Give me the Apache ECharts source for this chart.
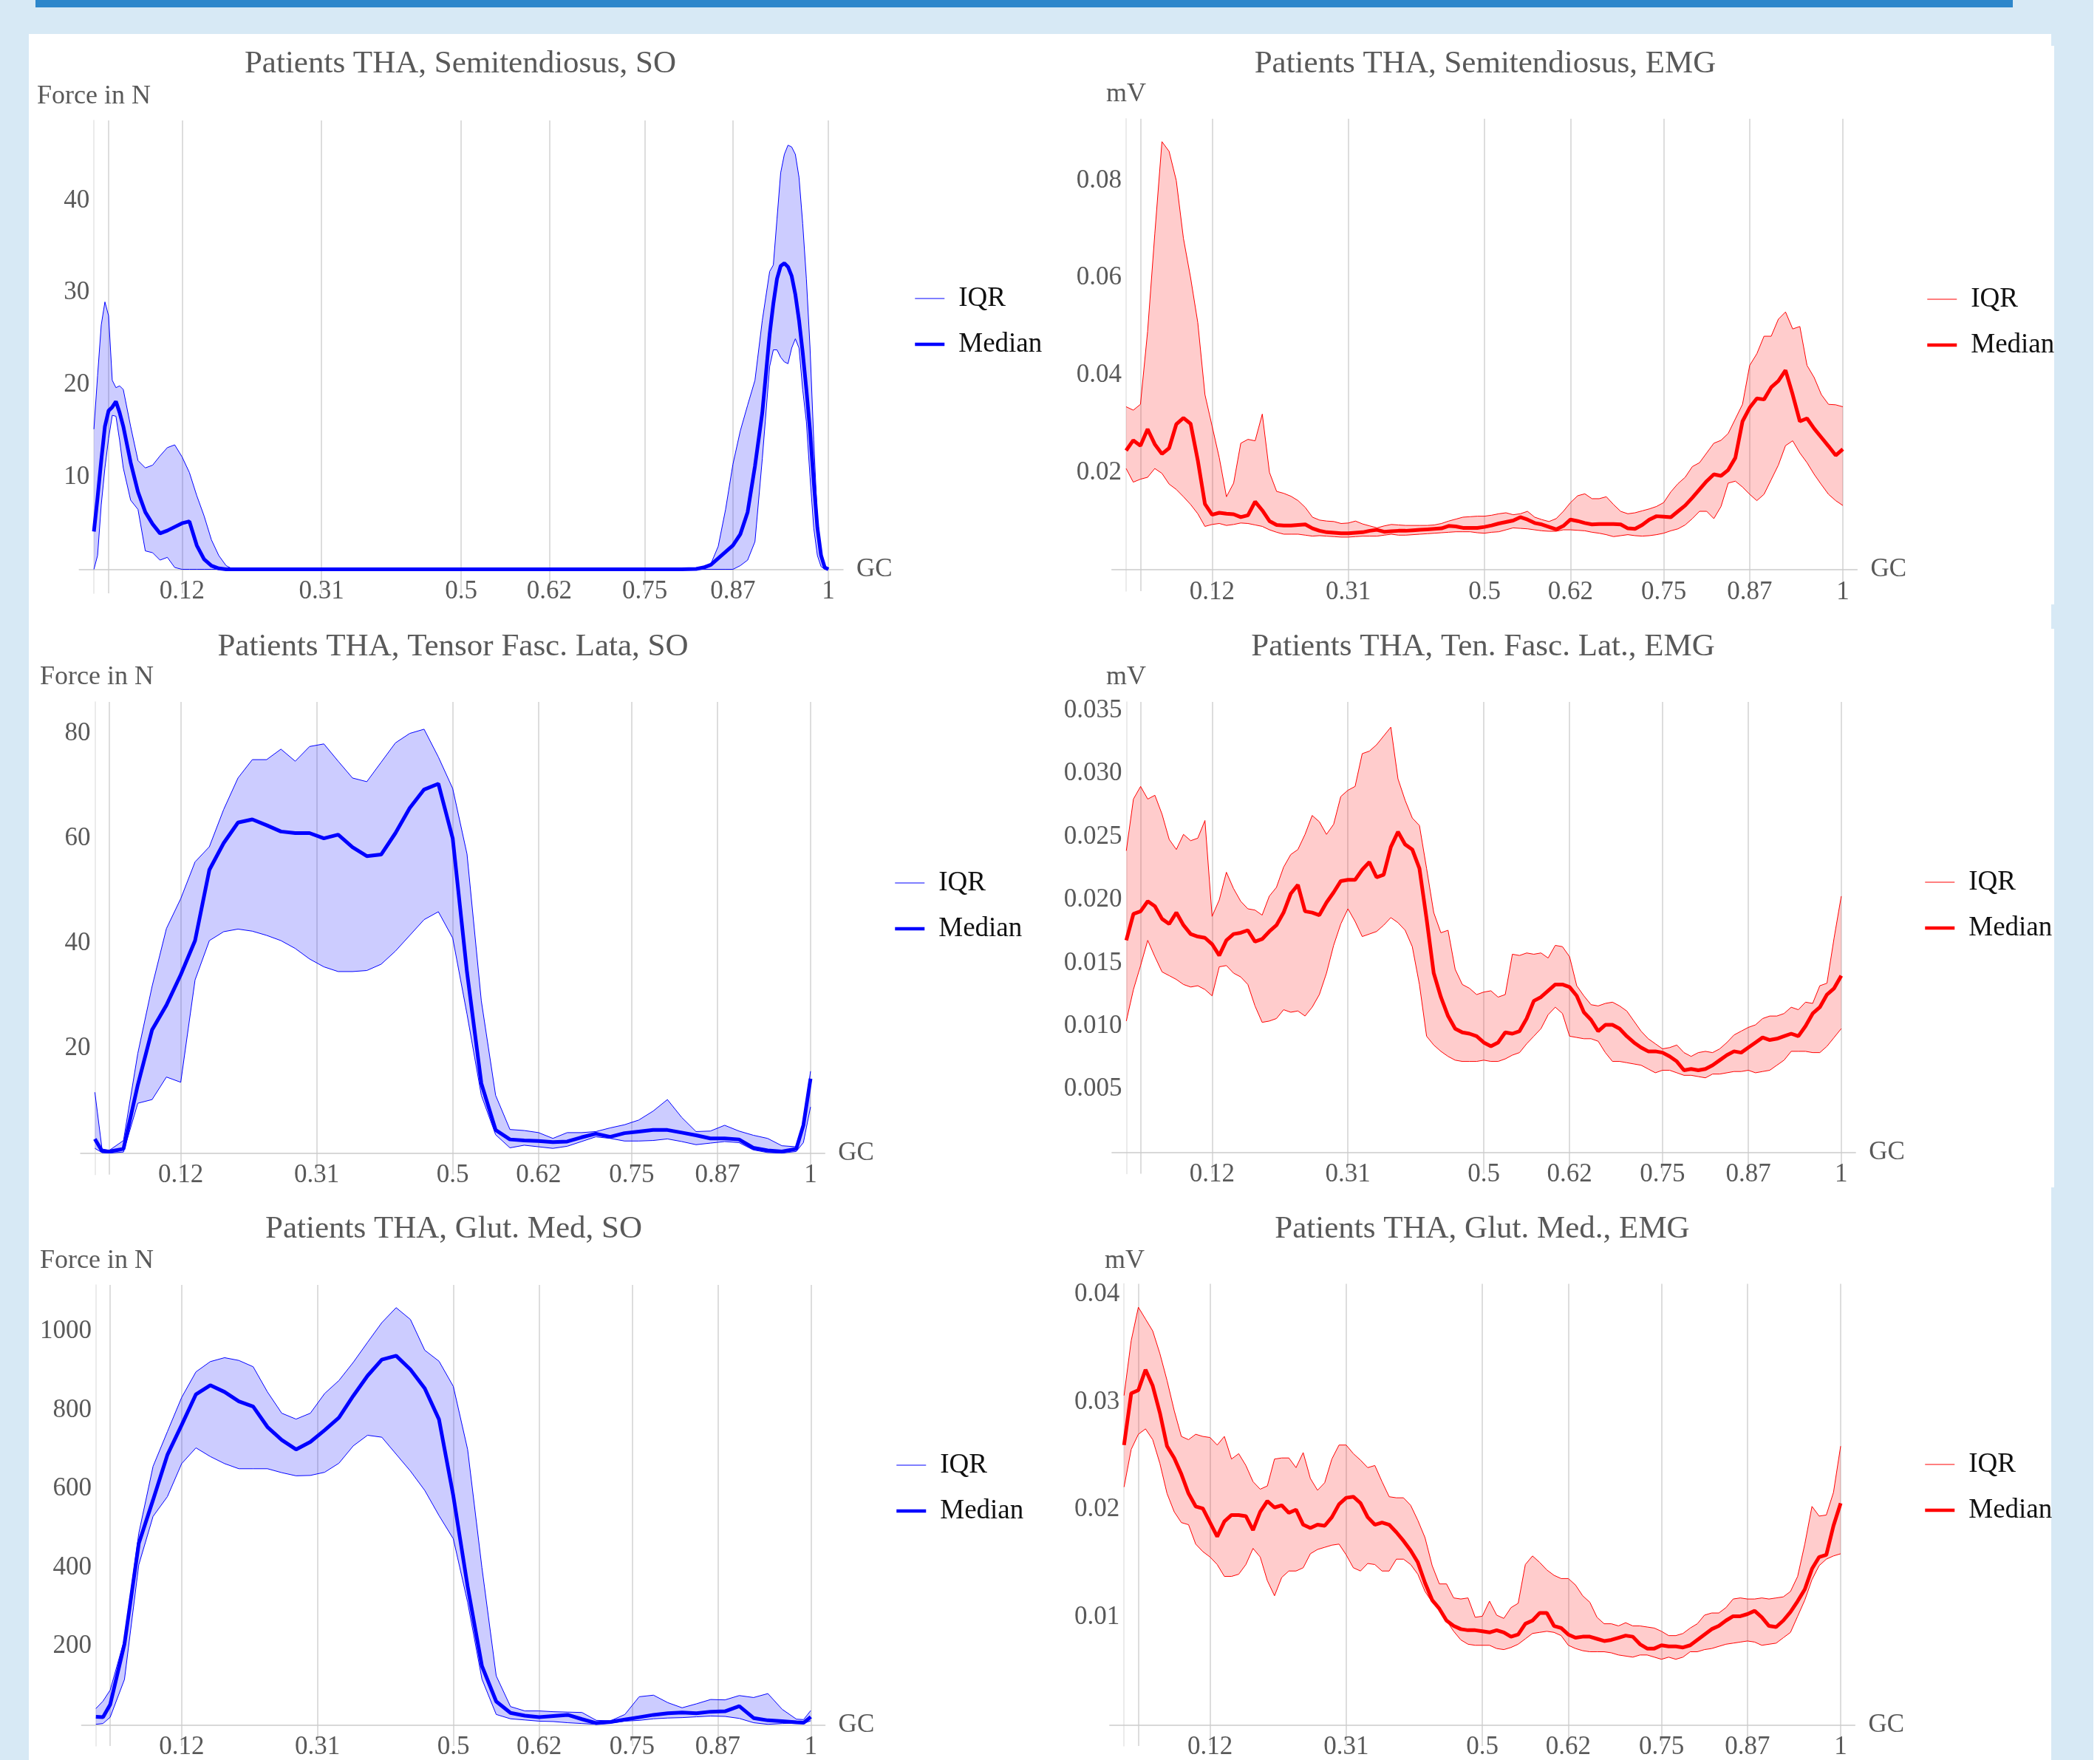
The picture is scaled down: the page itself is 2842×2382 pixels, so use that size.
<!DOCTYPE html>
<html>
<head>
<meta charset="utf-8">
<title>Patients THA - SO and EMG</title>
<script src="https://cdn.jsdelivr.net/npm/echarts@6/dist/echarts.min.js"></script>
<style>
  html, body { margin: 0; padding: 0; }
  body { width: 2842px; height: 2382px; background: #d7e9f5; position: relative; overflow: hidden; }
  .bar { position: absolute; left: 48px; top: 0; width: 2676px; height: 10px; background: #2d87cb; }
  .panel { position: absolute; background: #fff; }
  #chart { position: absolute; left: 0; top: 0; width: 2842px; height: 2382px; }
</style>
</head>
<body>
<div class="bar"></div>
<div class="panel" style="left:39px;top:46px;width:2737px;height:2336px"></div>
<div class="panel" style="left:2776px;top:62px;width:4px;height:756px"></div>
<div class="panel" style="left:2776px;top:851px;width:4px;height:756px"></div>
<div class="panel" style="left:2833px;top:0;width:9px;height:2382px"></div>
<div id="chart"></div>
<script>
// gait cycle (GC) positions of the samples
var gcSemiSo = [0, 0.005, 0.01, 0.015, 0.02, 0.025, 0.03, 0.035, 0.04, 0.05, 0.06, 0.07, 0.08, 0.09, 0.1,
    0.11, 0.12, 0.13, 0.14, 0.15, 0.16, 0.17, 0.18, 0.19, 0.2, 0.3, 0.4, 0.5, 0.6, 0.7, 0.8,
    0.82, 0.83, 0.84, 0.85, 0.86, 0.87, 0.88, 0.89, 0.9, 0.91, 0.92, 0.925, 0.93, 0.935, 0.94,
    0.945, 0.95, 0.955, 0.96, 0.965, 0.97, 0.975, 0.98, 0.985, 0.99, 0.995, 1];
var gcSo = [0, 0.01, 0.02, 0.04, 0.06, 0.08, 0.1, 0.12, 0.14, 0.16, 0.18, 0.2, 0.22, 0.24, 0.26, 0.28,
    0.3, 0.32, 0.34, 0.36, 0.38, 0.4, 0.42, 0.44, 0.46, 0.48, 0.5, 0.52, 0.54, 0.56, 0.58, 0.6, 0.62,
    0.64, 0.66, 0.68, 0.7, 0.72, 0.74, 0.76, 0.78, 0.8, 0.82, 0.84, 0.86, 0.88, 0.9, 0.92, 0.94, 0.96,
    0.98, 0.99, 1];
var gcEmg = [0, 0.01, 0.02, 0.03, 0.04, 0.05, 0.06, 0.07, 0.08, 0.09, 0.1, 0.11, 0.12, 0.13, 0.14, 0.15,
    0.16, 0.17, 0.18, 0.19, 0.2, 0.21, 0.22, 0.23, 0.24, 0.25, 0.26, 0.27, 0.28, 0.29, 0.3, 0.31, 0.32,
    0.33, 0.34, 0.35, 0.36, 0.37, 0.38, 0.39, 0.4, 0.41, 0.42, 0.43, 0.44, 0.45, 0.46, 0.47, 0.48, 0.49,
    0.5, 0.51, 0.52, 0.53, 0.54, 0.55, 0.56, 0.57, 0.58, 0.59, 0.6, 0.61, 0.62, 0.63, 0.64, 0.65, 0.66,
    0.67, 0.68, 0.69, 0.7, 0.71, 0.72, 0.73, 0.74, 0.75, 0.76, 0.77, 0.78, 0.79, 0.8, 0.81, 0.82, 0.83,
    0.84, 0.85, 0.86, 0.87, 0.88, 0.89, 0.9, 0.91, 0.92, 0.93, 0.94, 0.95, 0.96, 0.97, 0.98, 0.99, 1];

// Semitendiosus, static optimisation (N)
var semiSoQ1 = [0, 1.5, 7.0, 11.0, 14.2, 16.7, 16.6, 14.0, 11.0, 7.5, 6.5, 2.0, 1.8, 1.0, 1.3, 0.2, 0, 0,
    0, 0, 0, 0, 0, 0, 0, 0, 0, 0, 0, 0, 0, 0, 0, 0, 0, 0, 0, 0.4, 1.0, 3.0, 12.0, 22.0, 23.8, 23.8, 23.0,
    22.5, 22.3, 24.0, 25.0, 24.0, 19.5, 16.0, 10.0, 4.5, 1.5, 0.3, 0, 0];
var semiSoMedian = [4.1, 7.8, 11.8, 15.5, 17.2, 17.6, 18.2, 17.0, 15.5, 11.6, 8.4, 6.2, 4.9, 3.9, 4.2, 4.6,
    5.0, 5.2, 2.6, 1.1, 0.4, 0.1, 0, 0, 0, 0, 0, 0, 0, 0, 0, 0.05, 0.2, 0.5, 1.2, 1.9, 2.6, 3.8, 6.2, 11.2,
    17.0, 25.5, 28.8, 31.5, 32.9, 33.2, 32.8, 31.8, 29.8, 27.0, 23.5, 19.5, 15.0, 9.5, 4.5, 1.5, 0.2, 0];
var semiSoQ3 = [15.2, 21.0, 26.5, 29.0, 27.5, 20.5, 19.7, 19.9, 19.5, 15.5, 11.8, 11.0, 11.3, 12.3, 13.2,
    13.5, 12.2, 10.5, 8.0, 5.8, 3.2, 1.5, 0.4, 0, 0, 0, 0, 0, 0, 0, 0, 0.1, 0.3, 0.6, 2.5, 6.5, 11.4, 15.0,
    17.8, 20.5, 27.0, 32.3, 33.0, 38.0, 43.0, 45.0, 46.0, 45.8, 45.0, 42.5, 37.5, 31.5, 24.0, 14.0, 5.5,
    1.5, 0.3, 0];

// Semitendiosus, EMG (mV)
var semiEmgQ1 = [0.0208, 0.0180, 0.0186, 0.0190, 0.0208, 0.0198, 0.0176, 0.0165, 0.0150, 0.0134,
    0.0115, 0.0089, 0.0093, 0.0095, 0.0091, 0.0093, 0.0096, 0.0095, 0.0092, 0.0089,
    0.0082, 0.0077, 0.0073, 0.0073, 0.0073, 0.0071, 0.0069, 0.0070, 0.0069, 0.0068,
    0.0067, 0.0067, 0.0068, 0.0069, 0.0069, 0.0069, 0.0071, 0.0073, 0.0071, 0.0071,
    0.0072, 0.0073, 0.0074, 0.0075, 0.0076, 0.0077, 0.0078, 0.0078, 0.0078, 0.0076,
    0.0075, 0.0077, 0.0078, 0.0082, 0.0086, 0.0085, 0.0084, 0.0082, 0.0080, 0.0079,
    0.0079, 0.0082, 0.0082, 0.0081, 0.0080, 0.0077, 0.0075, 0.0072, 0.0068, 0.0070,
    0.0072, 0.0070, 0.0069, 0.0070, 0.0072, 0.0075, 0.0080, 0.0084, 0.0092, 0.0105,
    0.0120, 0.0120, 0.0105, 0.0130, 0.0178, 0.0182, 0.0170, 0.0155, 0.0142, 0.0155,
    0.0185, 0.0215, 0.0255, 0.0265, 0.0240, 0.0220, 0.0196, 0.0175, 0.0155, 0.0142, 0.0132];
var semiEmgMedian = [0.0245, 0.0266, 0.0255, 0.0289, 0.0258, 0.0238, 0.0250, 0.0299, 0.0312, 0.0300,
    0.0225, 0.0135, 0.0113, 0.0117, 0.0115, 0.0114, 0.0108, 0.0112, 0.0140, 0.0122,
    0.0100, 0.0092, 0.0091, 0.0091, 0.0092, 0.0093, 0.0085, 0.0080, 0.0077, 0.0076,
    0.0075, 0.0075, 0.0076, 0.0077, 0.0080, 0.0082, 0.0078, 0.0079, 0.0080, 0.0080,
    0.0081, 0.0082, 0.0083, 0.0084, 0.0085, 0.0090, 0.0089, 0.0086, 0.0086, 0.0086,
    0.0088, 0.0091, 0.0095, 0.0098, 0.0101, 0.0108, 0.0103, 0.0096, 0.0093, 0.0088,
    0.0083, 0.0090, 0.0103, 0.0100, 0.0096, 0.0093, 0.0094, 0.0094, 0.0094, 0.0093,
    0.0085, 0.0084, 0.0092, 0.0103, 0.0110, 0.0109, 0.0108, 0.0120, 0.0132, 0.0148,
    0.0165, 0.0182, 0.0196, 0.0193, 0.0205, 0.0230, 0.0305, 0.0333, 0.0352, 0.0350,
    0.0375, 0.0388, 0.0410, 0.0360, 0.0305, 0.0311, 0.0290, 0.0272, 0.0254, 0.0235, 0.0248];
var semiEmgQ3 = [0.0335, 0.0328, 0.0340, 0.0490, 0.0690, 0.0880, 0.0860, 0.0800, 0.0681, 0.0600,
    0.0508, 0.0360, 0.0295, 0.0230, 0.0150, 0.0178, 0.0260, 0.0268, 0.0265, 0.0320,
    0.0200, 0.0161, 0.0157, 0.0151, 0.0142, 0.0128, 0.0108, 0.0102, 0.0100, 0.0099,
    0.0095, 0.0096, 0.0100, 0.0094, 0.0090, 0.0086, 0.0090, 0.0093, 0.0092, 0.0091,
    0.0091, 0.0091, 0.0091, 0.0092, 0.0095, 0.0100, 0.0104, 0.0108, 0.0109, 0.0110,
    0.0110, 0.0112, 0.0115, 0.0117, 0.0113, 0.0115, 0.0120, 0.0108, 0.0103, 0.0099,
    0.0105, 0.0120, 0.0138, 0.0152, 0.0156, 0.0146, 0.0146, 0.0150, 0.0134, 0.0120,
    0.0115, 0.0117, 0.0121, 0.0125, 0.0130, 0.0138, 0.0160, 0.0177, 0.0190, 0.0212,
    0.0220, 0.0240, 0.0260, 0.0266, 0.0280, 0.0310, 0.0340, 0.0420, 0.0444, 0.0480,
    0.0480, 0.0515, 0.0530, 0.0495, 0.0500, 0.0420, 0.0395, 0.0360, 0.0340, 0.0339, 0.0335];

// Tensor fasciae latae, static optimisation (N)
var tflSoQ1 = [0.9, 0.1, 0, 0.2, 9.5, 10.2, 14.5, 13.5, 33.0, 40.5, 42.2, 42.7, 42.3, 41.5, 40.5, 39.0,
    37.0, 35.5, 34.6, 34.6, 34.8, 36.0, 38.5, 41.5, 44.5, 46.0, 41.0, 26.5, 11.0, 3.5, 1.0, 1.5, 1.2, 0.9,
    1.3, 2.2, 3.1, 2.8, 2.3, 2.3, 2.4, 2.7, 2.2, 1.6, 1.9, 2.2, 2.0, 0.6, 0.1, 0, 0.3, 2.0, 8.8];
var tflSoMedian = [2.7, 0.4, 0.3, 0.8, 13.0, 23.5, 28.2, 34.0, 40.5, 54.0, 59.1, 63.0, 63.6, 62.5, 61.3,
    61.0, 61.0, 60.0, 60.7, 58.3, 56.6, 56.9, 61.0, 65.8, 69.3, 70.4, 60.0, 34.5, 13.3, 4.4, 2.6, 2.4, 2.3,
    2.1, 2.2, 3.0, 3.7, 3.1, 3.8, 4.1, 4.4, 4.4, 3.9, 3.4, 2.8, 2.8, 2.6, 1.0, 0.5, 0.3, 0.8, 5.3, 14.2];
var tflSoQ3 = [11.6, 0.8, 0.5, 2.4, 19.0, 31.8, 42.8, 48.5, 55.5, 58.4, 65.5, 71.5, 75.0, 75.0, 77.0, 74.7,
    77.5, 78.0, 74.7, 71.5, 70.8, 74.5, 78.2, 80.0, 80.8, 75.5, 69.5, 57.0, 29.0, 11.0, 4.5, 4.3, 3.9, 2.8,
    3.9, 3.9, 4.1, 4.8, 5.4, 6.3, 8.0, 10.2, 6.8, 4.1, 4.2, 5.3, 4.2, 3.4, 2.8, 1.4, 1.2, 5.9, 15.6];

// Tensor fasciae latae, EMG (mV)
var tflEmgQ1 = [0.0104, 0.0129, 0.0148, 0.0168, 0.0155, 0.0143, 0.0140, 0.0137, 0.0133, 0.0131,
    0.0132, 0.0129, 0.0124, 0.0147, 0.0148, 0.0142, 0.0139, 0.0133, 0.0116, 0.0103,
    0.0104, 0.0106, 0.0113, 0.0111, 0.0112, 0.0108, 0.0115, 0.0125, 0.0142, 0.0164,
    0.0181, 0.0193, 0.0183, 0.0171, 0.0173, 0.0175, 0.0180, 0.0186, 0.0182, 0.0176,
    0.0163, 0.0133, 0.0092, 0.0085, 0.0080, 0.0076, 0.0073, 0.0072, 0.0072, 0.0072,
    0.0073, 0.0072, 0.0072, 0.0074, 0.0077, 0.0079, 0.0086, 0.0092, 0.0098, 0.0109,
    0.0115, 0.0110, 0.0092, 0.0091, 0.0090, 0.0090, 0.0088, 0.0079, 0.0072, 0.0072,
    0.0071, 0.0070, 0.0069, 0.0066, 0.0063, 0.0065, 0.0065, 0.0063, 0.0061, 0.0061,
    0.0060, 0.0059, 0.0062, 0.0062, 0.0063, 0.0064, 0.0064, 0.0065, 0.0063, 0.0064,
    0.0065, 0.0069, 0.0073, 0.0080, 0.0080, 0.0080, 0.0079, 0.0079, 0.0084, 0.0091, 0.0098];
var tflEmgMedian = [0.0168, 0.0189, 0.0191, 0.0199, 0.0195, 0.0185, 0.0181, 0.0190, 0.0180, 0.0173,
    0.0171, 0.0170, 0.0165, 0.0156, 0.0168, 0.0173, 0.0174, 0.0176, 0.0167, 0.0169,
    0.0175, 0.0180, 0.0190, 0.0205, 0.0212, 0.0191, 0.0190, 0.0188, 0.0198, 0.0206,
    0.0215, 0.0216, 0.0216, 0.0224, 0.0230, 0.0218, 0.0220, 0.0242, 0.0254, 0.0244,
    0.0240, 0.0225, 0.0185, 0.0142, 0.0123, 0.0108, 0.0098, 0.0095, 0.0094, 0.0092,
    0.0087, 0.0084, 0.0087, 0.0095, 0.0094, 0.0096, 0.0106, 0.0120, 0.0123, 0.0128,
    0.0133, 0.0133, 0.0131, 0.0124, 0.0111, 0.0105, 0.0096, 0.0101, 0.0101, 0.0098,
    0.0092, 0.0087, 0.0083, 0.0080, 0.0080, 0.0079, 0.0076, 0.0072, 0.0065, 0.0066,
    0.0065, 0.0066, 0.0069, 0.0073, 0.0077, 0.0080, 0.0079, 0.0083, 0.0087, 0.0091,
    0.0089, 0.0090, 0.0092, 0.0094, 0.0092, 0.0100, 0.0110, 0.0115, 0.0125, 0.0130, 0.0140];
var tflEmgQ3 = [0.0239, 0.0280, 0.0290, 0.0280, 0.0283, 0.0268, 0.0248, 0.0240, 0.0252, 0.0247,
    0.0249, 0.0263, 0.0187, 0.0200, 0.0222, 0.0209, 0.0199, 0.0193, 0.0192, 0.0188,
    0.0203, 0.0210, 0.0226, 0.0236, 0.0240, 0.0252, 0.0267, 0.0262, 0.0252, 0.0260,
    0.0282, 0.0287, 0.0290, 0.0316, 0.0318, 0.0323, 0.0330, 0.0337, 0.0296, 0.0279,
    0.0265, 0.0259, 0.0225, 0.0190, 0.0174, 0.0176, 0.0145, 0.0133, 0.0130, 0.0125,
    0.0127, 0.0128, 0.0123, 0.0125, 0.0157, 0.0156, 0.0158, 0.0157, 0.0158, 0.0154,
    0.0164, 0.0163, 0.0155, 0.0132, 0.0124, 0.0117, 0.0116, 0.0118, 0.0119, 0.0116,
    0.0112, 0.0104, 0.0096, 0.0090, 0.0086, 0.0082, 0.0083, 0.0085, 0.0079, 0.0076,
    0.0079, 0.0080, 0.0079, 0.0082, 0.0087, 0.0093, 0.0096, 0.0099, 0.0101, 0.0106,
    0.0108, 0.0108, 0.0110, 0.0115, 0.0113, 0.0119, 0.0118, 0.0132, 0.0134, 0.0170, 0.0203];

// Gluteus medius, static optimisation (N)
var glutSoQ1 = [2, 4, 20, 116, 407, 530, 580, 664, 704, 682, 664, 651, 651, 651, 641, 633, 634, 642, 665,
    709, 736, 731, 688, 645, 596, 532, 473, 312, 117, 27, 16, 13, 10, 9, 6, 4, 2, 5, 10, 12, 16, 18, 19,
    21, 23, 22, 17, 6, 2, 4, 5, 4, 11];
var glutSoMedian = [21, 20, 52, 206, 461, 572, 686, 762, 840, 863, 846, 822, 809, 757, 724, 700, 719, 749,
    781, 836, 887, 928, 938, 903, 855, 776, 582, 352, 150, 60, 31, 24, 20, 23, 26, 15, 5, 8, 14, 20, 26,
    30, 32, 30, 34, 35, 48, 18, 12, 10, 7, 6, 21];
var glutSoQ3 = [42, 61, 89, 218, 487, 657, 745, 832, 897, 923, 933, 926, 910, 846, 792, 777, 792, 842, 875,
    921, 972, 1022, 1060, 1030, 952, 924, 860, 700, 400, 125, 47, 36, 36, 34, 33, 32, 12, 11, 27, 72, 76,
    57, 44, 54, 65, 64, 75, 70, 80, 40, 15, 14, 37];

// Gluteus medius, EMG (mV)
var glutEmgQ1 = [0.0221, 0.0256, 0.0270, 0.0275, 0.0265, 0.0243, 0.0215, 0.0198, 0.0188, 0.0186,
    0.0168, 0.0161, 0.0156, 0.0149, 0.0138, 0.0138, 0.0140, 0.0149, 0.0164, 0.0156,
    0.0134, 0.0120, 0.0137, 0.0143, 0.0143, 0.0146, 0.0159, 0.0163, 0.0165, 0.0167,
    0.0168, 0.0158, 0.0146, 0.0143, 0.0150, 0.0149, 0.0143, 0.0143, 0.0154, 0.0154,
    0.0149, 0.0140, 0.0124, 0.0114, 0.0107, 0.0097, 0.0087, 0.0079, 0.0075, 0.0074,
    0.0074, 0.0074, 0.0071, 0.0070, 0.0072, 0.0075, 0.0080, 0.0085, 0.0086, 0.0087,
    0.0086, 0.0083, 0.0074, 0.0071, 0.0069, 0.0068, 0.0068, 0.0068, 0.0067, 0.0065,
    0.0064, 0.0063, 0.0065, 0.0065, 0.0063, 0.0061, 0.0063, 0.0061, 0.0063, 0.0068,
    0.0068, 0.0070, 0.0071, 0.0073, 0.0075, 0.0076, 0.0077, 0.0078, 0.0077, 0.0074,
    0.0075, 0.0076, 0.0081, 0.0086, 0.0101, 0.0116, 0.0135, 0.0148, 0.0154, 0.0157, 0.0159];
var glutEmgMedian = [0.0260, 0.0308, 0.0311, 0.0330, 0.0315, 0.0290, 0.0259, 0.0248, 0.0233, 0.0215,
    0.0203, 0.0201, 0.0188, 0.0175, 0.0189, 0.0195, 0.0195, 0.0194, 0.0181, 0.0198,
    0.0208, 0.0202, 0.0204, 0.0197, 0.0200, 0.0186, 0.0183, 0.0186, 0.0185, 0.0193,
    0.0205, 0.0211, 0.0212, 0.0206, 0.0193, 0.0186, 0.0188, 0.0186, 0.0179, 0.0171,
    0.0162, 0.0151, 0.0132, 0.0116, 0.0108, 0.0097, 0.0092, 0.0089, 0.0088, 0.0088,
    0.0087, 0.0086, 0.0088, 0.0086, 0.0082, 0.0084, 0.0094, 0.0097, 0.0104, 0.0104,
    0.0092, 0.0090, 0.0084, 0.0081, 0.0082, 0.0082, 0.0080, 0.0078, 0.0079, 0.0081,
    0.0083, 0.0082, 0.0075, 0.0071, 0.0071, 0.0074, 0.0073, 0.0073, 0.0072, 0.0074,
    0.0079, 0.0084, 0.0089, 0.0092, 0.0097, 0.0101, 0.0101, 0.0103, 0.0106, 0.0100,
    0.0092, 0.0091, 0.0097, 0.0105, 0.0115, 0.0126, 0.0145, 0.0156, 0.0158, 0.0185, 0.0206];
var glutEmgQ3 = [0.0306, 0.0357, 0.0388, 0.0377, 0.0366, 0.0345, 0.0320, 0.0292, 0.0268, 0.0265,
    0.0270, 0.0268, 0.0267, 0.0260, 0.0268, 0.0247, 0.0252, 0.0241, 0.0226, 0.0219,
    0.0222, 0.0247, 0.0248, 0.0248, 0.0239, 0.0253, 0.0229, 0.0218, 0.0225, 0.0247,
    0.0260, 0.0260, 0.0252, 0.0246, 0.0239, 0.0241, 0.0226, 0.0212, 0.0211, 0.0211,
    0.0204, 0.0190, 0.0174, 0.0148, 0.0131, 0.0131, 0.0118, 0.0117, 0.0118, 0.0100,
    0.0101, 0.0115, 0.0102, 0.0099, 0.0109, 0.0113, 0.0149, 0.0157, 0.0151, 0.0144,
    0.0139, 0.0136, 0.0136, 0.0130, 0.0120, 0.0114, 0.0100, 0.0094, 0.0094, 0.0092,
    0.0095, 0.0092, 0.0092, 0.0091, 0.0090, 0.0087, 0.0083, 0.0083, 0.0085, 0.0090,
    0.0094, 0.0102, 0.0104, 0.0104, 0.0109, 0.0117, 0.0118, 0.0117, 0.0117, 0.0118,
    0.0117, 0.0118, 0.0119, 0.0124, 0.0138, 0.0168, 0.0203, 0.0194, 0.0195, 0.0216, 0.0259];

// tick labels
var phaseTicks = [0.12, 0.31, 0.5, 0.62, 0.75, 0.87, 1];
var phaseLines = [0.02, 0.12, 0.31, 0.5, 0.62, 0.75, 0.87, 1];
var semiSoTicks = [10, 20, 30, 40];
var semiEmgTicks = [0.02, 0.04, 0.06, 0.08];
var tflSoTicks = [20, 40, 60, 80];
var tflEmgTicks = [0.005, 0.01, 0.015, 0.02, 0.025, 0.03, 0.035];
var glutSoTicks = [200, 400, 600, 800, 1000];
var glutEmgTicks = [0.01, 0.02, 0.03, 0.04];

var FONT = '"Liberation Serif", "Times New Roman", serif';
var GREY = '#595959';
var BLUE = '#0000ff', RED = '#ff0000';

// xLabelGap / yLabelGap pull the tick labels from the grid edge back to the zero lines
var panels = [
    { title: 'Patients THA, Semitendiosus, SO', unit: 'Force in N', color: BLUE, fill: 'rgba(0,0,255,0.2)',
      gc: gcSemiSo, q1: semiSoQ1, median: semiSoMedian, q3: semiSoQ3, ticks: semiSoTicks,
      yMin: -2.6, yMax: 48.68, grid: [107.2, 163, 1033.8, 640], xLabelGap: -20, yLabelGap: -14,
      titleAt: [623, 87], unitAt: [50, 131], legendAt: [1236, 384] },
    { title: 'Patients THA, Semitendiosus, EMG', unit: 'mV', color: RED, fill: 'rgba(255,0,0,0.2)',
      gc: gcEmg, q1: semiEmgQ1, median: semiEmgMedian, q3: semiEmgQ3, ticks: semiEmgTicks,
      yMin: -0.0044, yMax: 0.0927, grid: [1504.6, 160.8, 1008.8, 639.2], xLabelGap: -16, yLabelGap: -13.5,
      titleAt: [2010, 87], unitAt: [1497, 128], legendAt: [2606, 385] },
    { title: 'Patients THA, Tensor Fasc. Lata, SO', unit: 'Force in N', color: BLUE, fill: 'rgba(0,0,255,0.2)',
      gc: gcSo, q1: tflSoQ1, median: tflSoMedian, q3: tflSoQ3, ticks: tflSoTicks,
      yMin: -4.1, yMax: 86.0, grid: [109.0, 950, 1007.3, 639.7], xLabelGap: -16, yLabelGap: -13.5,
      titleAt: [613, 876], unitAt: [54, 917], legendAt: [1209, 1175] },
    { title: 'Patients THA, Ten. Fasc. Lat., EMG', unit: 'mV', color: RED, fill: 'rgba(255,0,0,0.2)',
      gc: gcEmg, q1: tflEmgQ1, median: tflEmgMedian, q3: tflEmgQ3, ticks: tflEmgTicks, digits: 3,
      yMin: -0.0017, yMax: 0.0357, grid: [1504.9, 950, 1006.3, 638.5], xLabelGap: -16, yLabelGap: -13.5,
      titleAt: [2007, 876], unitAt: [1497, 917], legendAt: [2603, 1174] },
    { title: 'Patients THA, Glut. Med, SO', unit: 'Force in N', color: BLUE, fill: 'rgba(0,0,255,0.2)',
      gc: gcSo, q1: glutSoQ1, median: glutSoMedian, q3: glutSoQ3, ticks: glutSoTicks,
      yMin: -53, yMax: 1117.8, grid: [110.4, 1739, 1006.2, 640], xLabelGap: -16, yLabelGap: -13.5,
      titleAt: [614, 1664], unitAt: [54, 1707], legendAt: [1211, 1963] },
    { title: 'Patients THA, Glut. Med., EMG', unit: 'mV', color: RED, fill: 'rgba(255,0,0,0.2)',
      gc: gcEmg, q1: glutEmgQ1, median: glutEmgMedian, q3: glutEmgQ3, ticks: glutEmgTicks,
      yMin: -0.00195, yMax: 0.04097, grid: [1501.8, 1737.6, 1008.6, 639.5], xLabelGap: -16, yLabelGap: -13.5,
      titleAt: [2006, 1664], unitAt: [1495, 1707], legendAt: [2603, 1962] }
];

function pairs(xs, ys) {
    return xs.map(function (x, k) { return [x, ys[k]]; });
}

var grids = [], xAxes = [], yAxes = [], series = [], legends = [], texts = [];

panels.forEach(function (p, i) {
    grids.push({ left: p.grid[0], top: p.grid[1], width: p.grid[2], height: p.grid[3] });

    xAxes.push({
        type: 'value', gridIndex: i, min: -0.02, max: 1.02,
        name: 'GC', nameLocation: 'end', nameGap: 18,
        nameTextStyle: { fontFamily: FONT, fontSize: 35, color: GREY },
        axisLine: { onZero: true, lineStyle: { color: '#cccccc', width: 1.5 } },
        axisTick: { show: false, customValues: phaseLines },
        axisLabel: {
            customValues: phaseTicks, margin: p.xLabelGap, fontFamily: FONT, fontSize: 35, color: GREY,
            formatter: function (v) { return String(v); }
        },
        splitLine: { show: true, lineStyle: { color: '#d2d2d2', width: 1.5 } }
    });

    yAxes.push({
        type: 'value', gridIndex: i, min: p.yMin, max: p.yMax,
        axisLine: { show: true, onZero: true, lineStyle: { color: '#e4e4e4', width: 1.5 } },
        axisTick: { show: false },
        axisLabel: {
            customValues: p.ticks, margin: p.yLabelGap, fontFamily: FONT, fontSize: 35, color: GREY,
            formatter: function (v) { return p.digits ? v.toFixed(p.digits) : String(v); }
        },
        splitLine: { show: false }
    });

    // quartile lines
    series.push({
        type: 'line', name: 'IQR|' + i, xAxisIndex: i, yAxisIndex: i, data: pairs(p.gc, p.q1),
        symbol: 'none', lineStyle: { color: p.color, width: 1 }, itemStyle: { color: p.color }, z: 2
    });
    series.push({
        type: 'line', name: 'IQR|' + i, xAxisIndex: i, yAxisIndex: i, data: pairs(p.gc, p.q3),
        symbol: 'none', lineStyle: { color: p.color, width: 1 }, itemStyle: { color: p.color }, z: 2
    });
    // shaded band between the quartiles
    series.push({
        type: 'custom', name: 'IQR|' + i, xAxisIndex: i, yAxisIndex: i,
        data: [[p.gc[0], p.q1[0]]], silent: true, z: 1,
        renderItem: function (params, api) {
            var pts = [], k;
            for (k = 0; k < p.gc.length; k++) pts.push(api.coord([p.gc[k], p.q3[k]]));
            for (k = p.gc.length - 1; k >= 0; k--) pts.push(api.coord([p.gc[k], p.q1[k]]));
            return { type: 'polygon', shape: { points: pts }, style: { fill: p.fill, stroke: null } };
        }
    });
    series.push({
        type: 'line', name: 'Median|' + i, xAxisIndex: i, yAxisIndex: i, data: pairs(p.gc, p.median),
        symbol: 'none', lineStyle: { color: p.color, width: 5 }, itemStyle: { color: p.color }, z: 3
    });

    legends.push({
        orient: 'vertical', left: p.legendAt[0], top: p.legendAt[1], padding: 0,
        itemWidth: 40, itemHeight: 14, itemGap: 22, selectedMode: false,
        data: [
            { name: 'IQR|' + i, itemStyle: { opacity: 0 }, lineStyle: { width: 1, color: p.color } },
            { name: 'Median|' + i, itemStyle: { opacity: 0 }, lineStyle: { width: 4.5, color: p.color } }
        ],
        formatter: function (name) { return name.split('|')[0]; },
        textStyle: { fontFamily: FONT, fontSize: 37, color: '#111', lineHeight: 40, padding: [0, 0, 0, 14] }
    });

    texts.push({
        type: 'text', x: p.titleAt[0], y: p.titleAt[1],
        style: {
            text: p.title, fill: GREY, fontFamily: FONT, fontSize: 43,
            textAlign: 'center', textVerticalAlign: 'middle', align: 'center', verticalAlign: 'middle'
        }
    });
    texts.push({
        type: 'text', x: p.unitAt[0], y: p.unitAt[1],
        style: {
            text: p.unit, fill: GREY, fontFamily: FONT, fontSize: 36,
            textAlign: 'left', textVerticalAlign: 'middle', align: 'left', verticalAlign: 'middle'
        }
    });
});

var chart = echarts.init(document.getElementById('chart'), null, { renderer: 'canvas' });
chart.setOption({
    backgroundColor: 'transparent',
    animation: false,
    textStyle: { fontFamily: FONT },
    grid: grids,
    xAxis: xAxes,
    yAxis: yAxes,
    legend: legends,
    graphic: { elements: texts },
    series: series
});
</script>
</body>
</html>
